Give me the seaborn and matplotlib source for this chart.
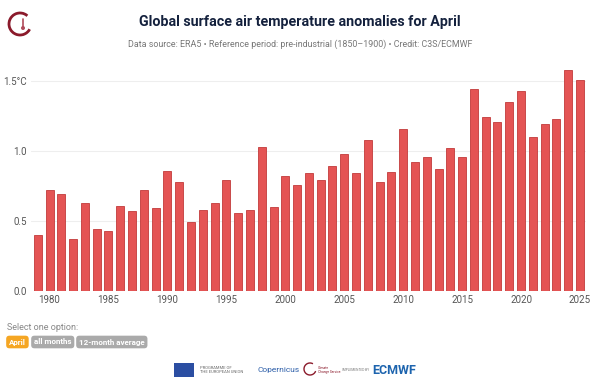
import matplotlib
matplotlib.use("Agg")
import matplotlib.pyplot as plt
import matplotlib.patches as mpatches
import matplotlib.lines as mlines
import pandas as pd
import seaborn as sns

# April anomalies vs pre-industrial (1850-1900)
years = list(range(1979, 2026))
anomalies = [0.40, 0.72, 0.69, 0.37, 0.63, 0.44, 0.43, 0.61, 0.57, 0.72,
             0.59, 0.86, 0.78, 0.49, 0.58, 0.63, 0.79, 0.56, 0.58, 1.03,
             0.60, 0.82, 0.755, 0.84, 0.79, 0.89, 0.98, 0.84, 1.08, 0.78,
             0.85, 1.16, 0.92, 0.96, 0.87, 1.02, 0.96, 1.44, 1.24, 1.21,
             1.35, 1.43, 1.10, 1.19, 1.23, 1.58, 1.51]
year_ticks = [1980, 1985, 1990, 1995, 2000, 2005, 2010, 2015, 2020, 2025]
y_ticks = [0.0, 0.5, 1.0, 1.5]
y_tick_labels = ["0.0", "0.5", "1.0", "1.5°C"]

df = pd.DataFrame({"year": years, "anomaly": anomalies})

sns.set_style("white")
plt.rcParams["font.family"] = ["Roboto", "DejaVu Sans"]

fig = plt.figure(figsize=(6, 3.85), dpi=100)
ax = fig.add_axes([0.0517, 0.2442, 0.925, 0.5818])

sns.barplot(data=df, x="year", y="anomaly", native_scale=True, width=0.68,
            color="#e45454", saturation=1, edgecolor="#c23a3a", linewidth=0.6,
            ax=ax, zorder=3)

ax.set_xlim(1978.43, 2025.51)
ax.set_ylim(0, 1.6)
ax.set_xticks(year_ticks)
ax.set_xticklabels([str(y) for y in year_ticks])
ax.set_yticks(y_ticks)
ax.set_yticklabels(y_tick_labels)
ax.tick_params(axis="both", length=0, labelsize=7, colors="#555555")
ax.tick_params(axis="x", pad=3)
ax.tick_params(axis="y", pad=3)
ax.grid(axis="y", color="#eeeeee", linewidth=0.8, zorder=0)
ax.set_xlabel("")
ax.set_ylabel("")
sns.despine(ax=ax, left=True, bottom=True)

# title block
fig.text(0.5, 0.943, "Global surface air temperature anomalies for April",
         ha="center", va="center", fontsize=10.3, fontweight="bold",
         color="#14213d")
fig.text(0.5, 0.886,
         "Data source: ERA5 • Reference period: pre-industrial (1850–1900) • Credit: C3S/ECMWF",
         ha="center", va="center", fontsize=6.4, color="#777777")

# small logo top left: arc with a tiny thermometer
logo = mpatches.Arc((20 / 600, 1 - 24 / 385), 22 / 600, 22 / 385, theta1=60, theta2=320,
                    transform=fig.transFigure, color="#8b1a2b", linewidth=2)
fig.add_artist(logo)
fig.add_artist(mlines.Line2D([23 / 600, 23 / 600], [1 - 19 / 385, 1 - 27 / 385],
                             transform=fig.transFigure, color="#b04a5a", linewidth=1.2))
fig.add_artist(mpatches.Ellipse((23 / 600, 1 - 28 / 385), 4 / 600, 4 / 385,
                                transform=fig.transFigure, fc="#b04a5a", ec="none"))

# option selector
fig.text(7 / 600, 1 - 328 / 385, "Select one option:", fontsize=6.5,
         color="#888888", va="center")
buttons = [("April", "#f5a623", 9), ("all months", "#aaaaaa", 34), ("12-month average", "#aaaaaa", 79)]
for label, col, xp in buttons:
    fig.text(xp / 600, 1 - 342 / 385, label, fontsize=5.8, color="white",
             va="center", fontweight="bold",
             bbox=dict(boxstyle="round,pad=0.35,rounding_size=0.4", fc=col, ec="none"))

# footer logos (approximation)
flag = mpatches.Rectangle((174 / 600, 1 - 377 / 385), 20 / 600, 14 / 385,
                          transform=fig.transFigure, fc="#2b4ea2", ec="none")
fig.add_artist(flag)
fig.text(200 / 600, 1 - 370 / 385, "PROGRAMME OF\nTHE EUROPEAN UNION", fontsize=3,
         color="#666666", va="center", linespacing=1.3)
fig.text(257 / 600, 1 - 370 / 385, "Copernicus", fontsize=6, color="#2b5da8", va="center")
clogo = mpatches.Arc((310 / 600, 1 - 369 / 385), 12 / 600, 12 / 385, theta1=70, theta2=330,
                     transform=fig.transFigure, color="#8b1a2b", linewidth=1)
fig.add_artist(clogo)
fig.text(318 / 600, 1 - 370 / 385, "Climate\nChange Service", fontsize=2.3,
         color="#8b1a2b", va="center")
fig.text(342 / 600, 1 - 370 / 385, "IMPLEMENTED BY", fontsize=2.3, color="#777777", va="center")
fig.text(372 / 600, 1 - 370 / 385, "ECMWF", fontsize=9, fontweight="bold",
         color="#1d64ae", va="center")

fig.savefig("out.png", dpi=100)
